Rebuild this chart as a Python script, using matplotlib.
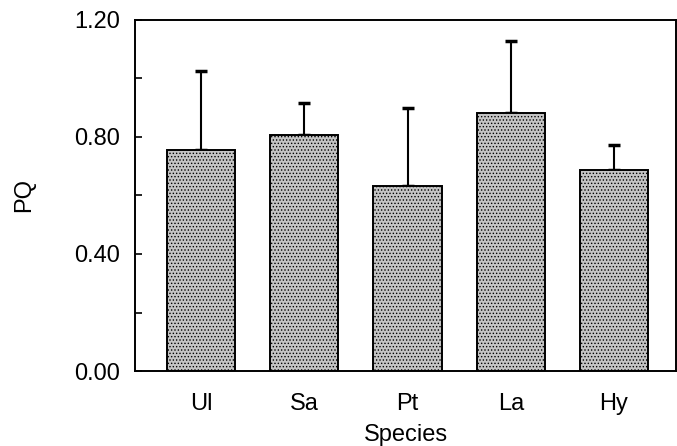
import matplotlib.pyplot as plt
import numpy as np

# values
species = ["Ul", "Sa", "Pt", "La", "Hy"]
pq_mean = [0.754, 0.807, 0.632, 0.881, 0.687]
pq_err = [0.270, 0.109, 0.266, 0.246, 0.087]
y_ticks = [0.0, 0.4, 0.8, 1.2]
y_labels = ["0.00", "0.40", "0.80", "1.20"]

plt.rcParams['font.family'] = ['Liberation Sans', 'DejaVu Sans']
plt.rcParams['hatch.color'] = '#7f7f7f'
plt.rcParams['hatch.linewidth'] = 0.6

fig = plt.figure(figsize=(6.77, 4.46), dpi=100)
ax = fig.add_axes([135 / 677, (446 - 371) / 446, (676 - 135) / 677, (371 - 20) / 446])

x = np.arange(len(species))
ax.bar(x, pq_mean, width=0.66, color='#c4c4c4', edgecolor='black', linewidth=1.4,
       hatch='.....', zorder=2)
ax.errorbar(x, pq_mean, yerr=[np.zeros(len(pq_err)), pq_err], fmt='none',
            ecolor='black', elinewidth=1.5, capsize=4, capthick=2.5, zorder=1)

ax.set_xlim(-0.64, 4.6)
ax.set_ylim(0, 1.2)
ax.set_yticks(y_ticks)
ax.set_yticklabels(y_labels)
ax.set_yticks([0.2, 0.6, 1.0], minor=True)
ax.set_xticks(x)
ax.set_xticklabels(species)
ax.tick_params(axis='y', which='both', direction='in', length=5, width=1.2,
               labelsize=17, pad=11)
ax.tick_params(axis='x', length=0, labelsize=17, pad=16)
for s in ax.spines.values():
    s.set_linewidth(1.4)

ax.set_xlabel("Species", fontsize=17, labelpad=6)
ax.set_ylabel("PQ", fontsize=17, labelpad=28)

fig.savefig("out.png", dpi=100)
